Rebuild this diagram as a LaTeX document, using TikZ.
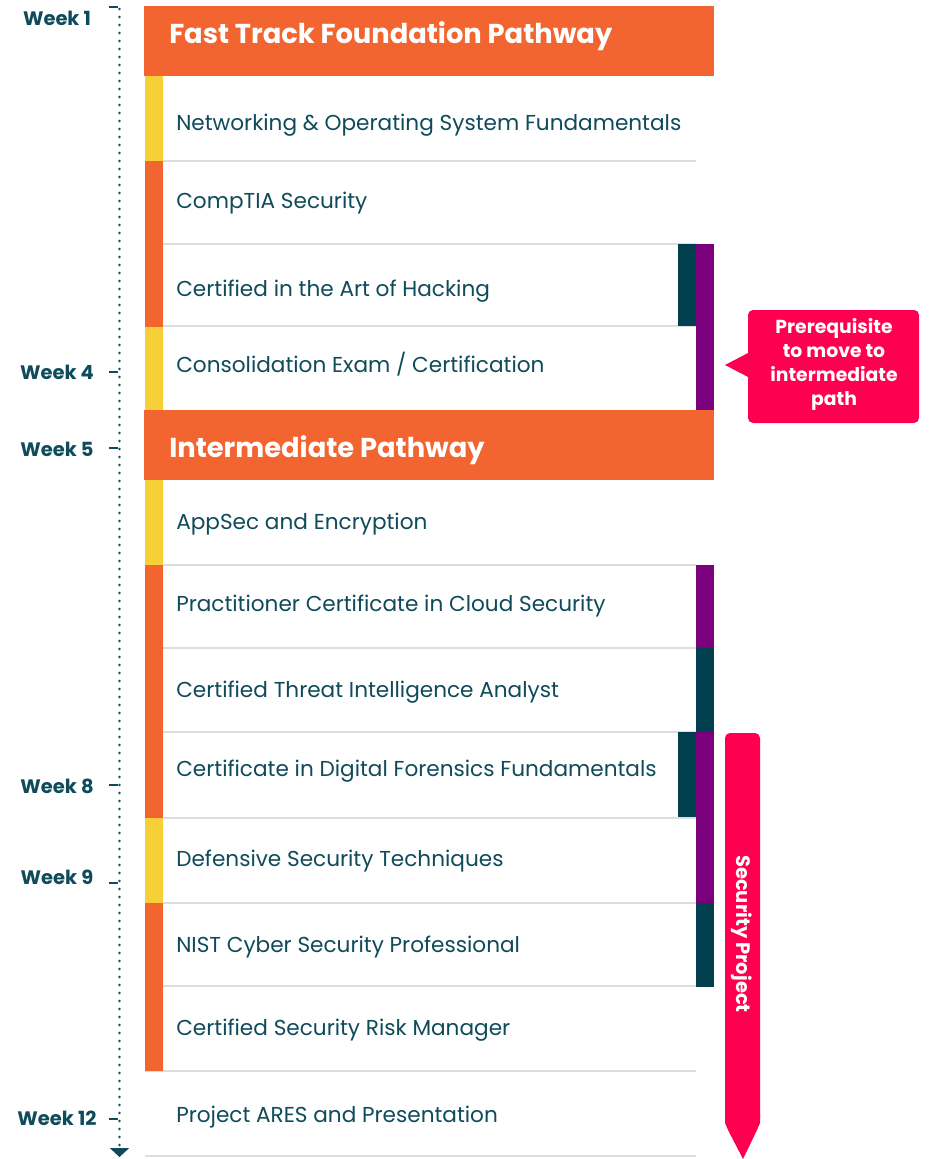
\documentclass[tikz,border=0pt]{standalone}
\usepackage{fontspec}
\setmainfont{Poppins}
\usetikzlibrary{arrows.meta}
\definecolor{hdr}{HTML}{F26430}
\definecolor{ylw}{HTML}{F7D038}
\definecolor{teal}{HTML}{023F4F}
\definecolor{purp}{HTML}{7B007B}
\definecolor{pnk}{HTML}{FF0050}
\definecolor{txt}{HTML}{0F4B5A}
\definecolor{sepc}{HTML}{DDDDDD}
\tikzset{
  rowtext/.style={anchor=mid west, text=txt, font=\fontsize{16.2}{19}\selectfont, inner sep=0pt},
  weeklabel/.style={anchor=center, text=txt, font=\bfseries\fontsize{14.6}{17}\selectfont, inner sep=0pt},
  headtext/.style={anchor=mid west, text=white, font=\bfseries\fontsize{20.5}{24}\selectfont, inner sep=0pt},
  sepline/.style={draw=sepc, line width=0.9pt},
  tick/.style={draw=txt, line width=1.5pt},
  timeline/.style={draw=txt, line width=2.2pt, line cap=round, dash pattern=on 0pt off 6pt, -{Triangle[width=14.25pt,length=6.75pt]}},
  callouttext/.style={align=center, text=white, font=\bfseries\fontsize{14.1}{18}\selectfont, inner sep=0pt},
}
\begin{document}
\begin{tikzpicture}[x=0.75pt,y=-0.75pt]
\useasboundingbox (0,0) rectangle (931,1159);
\fill[white] (0,0) rectangle (931,1159);

% timeline
\coordinate (tltop) at (119.5,9);
\coordinate (tlbot) at (119.5,1157);
\draw[timeline] (tltop) -- (tlbot);
\foreach \y in {7,372,448,785,883,1119}{ \draw[tick] (109,\y) -- (118,\y); }
\node[weeklabel] (w1) at (57,18) {Week 1};
\node[weeklabel] (w4) at (57,372) {Week 4};
\node[weeklabel] (w5) at (57,449) {Week 5};
\node[weeklabel] (w8) at (57,786) {Week 8};
\node[weeklabel] (w9) at (57,877) {Week 9};
\node[weeklabel] (w12) at (57,1118) {Week 12};

% separators
\foreach \y in {161,244,326,565,648,732,818,903,986,1071,1156}{ \draw[sepline] (145,\y) -- (696,\y); }

% headers
\fill[hdr] (144,6) rectangle (714,76);
\node[headtext] (h1) at (169,40) {Fast Track Foundation Pathway};
\fill[hdr] (144,410) rectangle (714,480);
\node[headtext] (h2) at (169,454) {Intermediate Pathway};

% left bars
\fill[ylw] (145,76) rectangle (163,161);
\fill[hdr] (145,161) rectangle (163,327);
\fill[ylw] (145,327) rectangle (163,410);
\fill[ylw] (145,480) rectangle (163,565);
\fill[hdr] (145,565) rectangle (163,818);
\fill[ylw] (145,818) rectangle (163,903);
\fill[hdr] (145,903) rectangle (163,1071);

% right bars
\fill[teal] (678,244) rectangle (696,326);
\fill[purp] (696,244) rectangle (714,410);
\fill[purp] (696,565) rectangle (714,648);
\fill[teal] (696,648) rectangle (714,732);
\fill[teal] (678,732) rectangle (696,817);
\fill[purp] (696,732) rectangle (714,903);
\fill[teal] (696,903) rectangle (714,987);

% row texts
\node[rowtext] (r1) at (176,127) {Networking \& Operating System Fundamentals};
\node[rowtext] (r2) at (176,205) {CompTIA Security};
\node[rowtext] (r3) at (176,293) {Certified in the Art of Hacking};
\node[rowtext] (r4) at (176,369) {Consolidation Exam / Certification};
\node[rowtext] (r5) at (176,526) {AppSec and Encryption};
\node[rowtext] (r6) at (176,608) {Practitioner Certificate in Cloud Security};
\node[rowtext] (r7) at (176,694) {Certified Threat Intelligence Analyst};
\node[rowtext] (r8) at (176,773) {Certificate in Digital Forensics Fundamentals};
\node[rowtext] (r9) at (176,863) {Defensive Security Techniques};
\node[rowtext] (r10) at (176,949) {NIST Cyber Security Professional};
\node[rowtext] (r11) at (176,1032) {Certified Security Risk Manager};
\node[rowtext] (r12) at (176,1119) {Project ARES and Presentation};

% callout
\fill[pnk, rounded corners=3.75pt] (748,310) rectangle (919,423);
\fill[pnk] (750,352) -- (725,365) -- (750,378) -- cycle;
\node[callouttext] (prereq) at (834,364) {Prerequisite\\to move to\\intermediate\\path};

% security project arrow
\fill[pnk, rounded corners=3.75pt] (725,1123) -- (725,733) -- (760,733) -- (760,1123) -- cycle;
\fill[pnk] (725,1115) -- (725,1123) -- (728,1130) -- (743,1159) -- (757,1130) -- (760,1123) -- (760,1115) -- cycle;
\node[rotate=-90, text=white, font=\bfseries\fontsize{14.6}{17}\selectfont, inner sep=0pt] (secproj) at (742,934) {Security Project};
\end{tikzpicture}
\end{document}
